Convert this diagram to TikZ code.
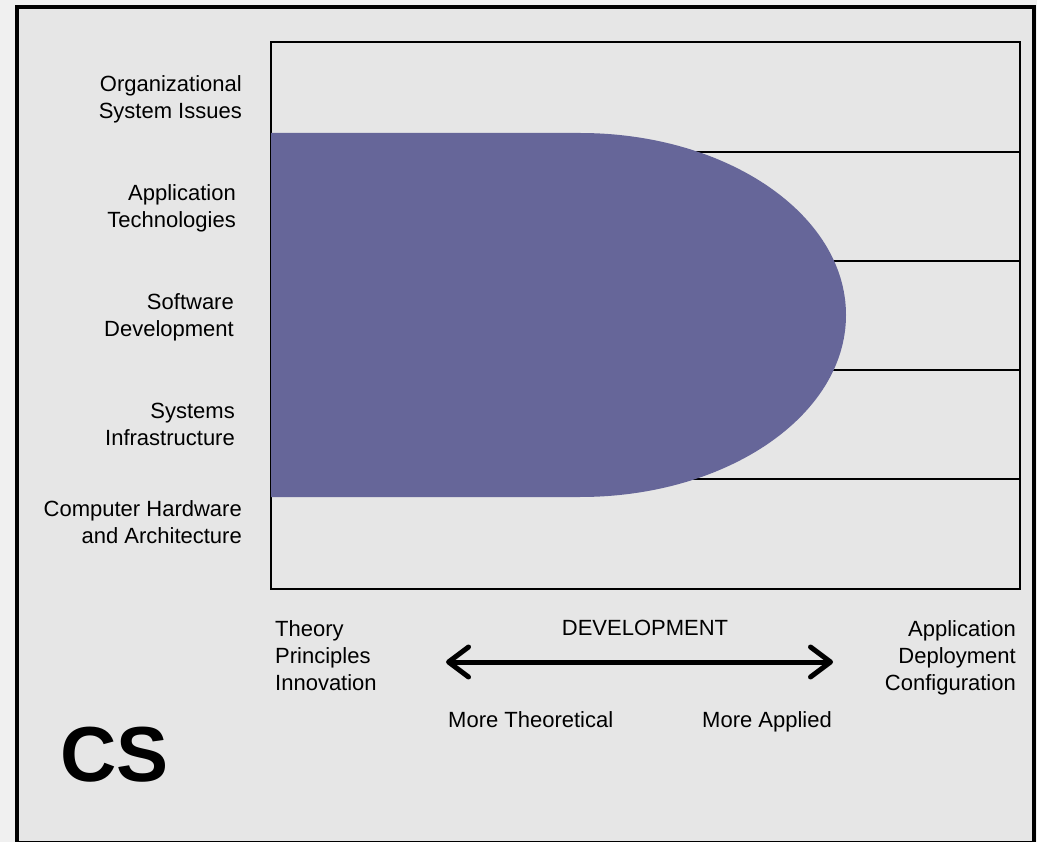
\documentclass[tikz,border=0pt]{standalone}
\usepackage{fontspec}
\setmainfont{Liberation Sans}
\usetikzlibrary{arrows.meta}
\definecolor{outerbg}{RGB}{240,240,240}
\definecolor{innerbg}{RGB}{230,230,230}
\definecolor{blob}{RGB}{102,102,153}
\tikzset{
  lbl/.style={font=\fontsize{22}{27}\selectfont, inner sep=0pt, align=right},
  lbll/.style={font=\fontsize{22}{27}\selectfont, inner sep=0pt, align=left},
  gridline/.style={line width=2pt, black},
  barbtip/.tip={Straight Barb[round,length=20pt,width=30pt]},
}
\begin{document}
\begin{tikzpicture}[x=1pt,y=-1pt]
\useasboundingbox (0,0) rectangle (1037,842);
\fill[outerbg] (0,0) rectangle (1037,842);
\filldraw[fill=innerbg, draw=black, line width=4pt] (17,7) rectangle (1034,843);
% inner box and rows
\draw[gridline] (271,42) rectangle (1020,589);
\foreach \yy in {152,261,370,479} \draw[gridline] (271,\yy) -- (1020,\yy);
% purple shape
\fill[blob] (271,133) -- (580,133) arc[start angle=-90, end angle=90, x radius=266, y radius=182] -- (271,497) -- cycle;
% left labels
\node[lbl, anchor=east] (org) at (242,99.5) {Organizational\\System Issues};
\node[lbl, anchor=east] (app) at (236,208.5) {Application\\Technologies};
\node[lbl, anchor=east] (sw) at (234,317.5) {Software\\Development};
\node[lbl, anchor=east] (sys) at (235,424.5) {Systems\\Infrastructure};
\node[lbl, anchor=east] (hw) at (242,522.5) {Computer Hardware\\and Architecture};
% bottom
\node[lbll, anchor=west] (theory) at (275,656) {Theory\\Principles\\Innovation};
\node[lbl, anchor=east] (applied) at (1016,658) {Application\\Deployment\\Configuration};
\node[lbll] (dev) at (645,628) {DEVELOPMENT};
\node[lbll, anchor=base west] (mt) at (448,727) {More Theoretical};
\node[lbll, anchor=base west] (ma) at (702,727) {More Applied};
\coordinate (aL) at (446,662);
\coordinate (aR) at (833,662);
\draw[line width=5pt, barbtip-barbtip] (aL) -- (aR);
\node[inner sep=0pt, anchor=west, font=\fontsize{78}{82}\selectfont\bfseries] (cs) at (60,755) {CS};
\end{tikzpicture}
\end{document}
